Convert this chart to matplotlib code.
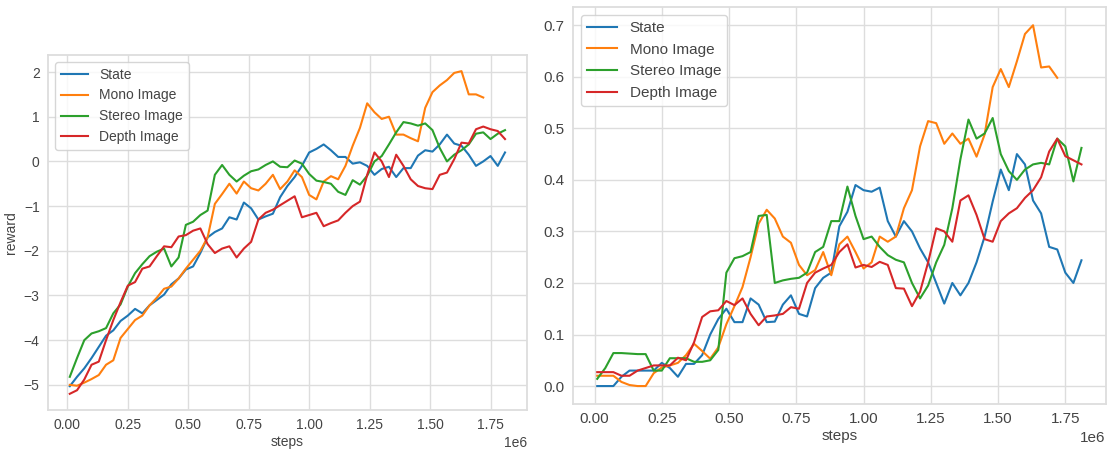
import matplotlib
matplotlib.use("Agg")
import matplotlib.pyplot as plt
import numpy as np

plt.rcParams['font.family'] = ['Liberation Sans', 'DejaVu Sans']
plt.rcParams['axes.unicode_minus'] = True

# training steps (in millions) shared by all runs
STEPS_M = [0.01, 0.04, 0.07, 0.10, 0.13, 0.16, 0.19, 0.22, 0.25, 0.28,
           0.31, 0.34, 0.37, 0.40, 0.43, 0.46, 0.49, 0.52, 0.55, 0.58,
           0.61, 0.64, 0.67, 0.70, 0.73, 0.76, 0.79, 0.82, 0.85, 0.88,
           0.91, 0.94, 0.97, 1.00, 1.03, 1.06, 1.09, 1.12, 1.15, 1.18,
           1.21, 1.24, 1.27, 1.30, 1.33, 1.36, 1.39, 1.42, 1.45, 1.48,
           1.51, 1.54, 1.57, 1.60, 1.63, 1.66, 1.69, 1.72, 1.75, 1.78,
           1.81]

LABELS = ['State', 'Mono Image', 'Stereo Image', 'Depth Image']
COLORS = ['#1f77b4', '#ff7f0e', '#2ca02c', '#d62728']

# left panel: reward
REWARD_STATE = [-5.03, -4.82, -4.63, -4.4, -4.15, -3.9, -3.78, -3.57, -3.45, -3.3,
                -3.4, -3.22, -3.1, -2.98, -2.75, -2.62, -2.42, -2.35, -2.05, -1.7,
                -1.58, -1.5, -1.25, -1.3, -0.92, -1.05, -1.3, -1.23, -1.17, -0.8,
                -0.55, -0.35, -0.1, 0.2, 0.28, 0.38, 0.25, 0.1, 0.1, -0.05,
                -0.02, -0.1, -0.3, -0.17, -0.12, -0.35, -0.15, -0.15, 0.13, 0.25,
                0.22, 0.38, 0.6, 0.4, 0.35, 0.15, -0.1, 0.0, 0.12, -0.1,
                0.2]
REWARD_MONO = [-5.0, -5.02, -4.95, -4.87, -4.78, -4.55, -4.45, -3.95, -3.75, -3.55,
               -3.45, -3.22, -3.05, -2.85, -2.8, -2.62, -2.4, -2.2, -2.0, -1.7,
               -0.95, -0.73, -0.5, -0.72, -0.45, -0.6, -0.65, -0.5, -0.3, -0.62,
               -0.45, -0.2, -0.35, -0.75, -0.85, -0.45, -0.33, -0.4, -0.1, 0.35,
               0.75, 1.3, 1.1, 0.95, 1.0, 0.6, 0.6, 0.52, 0.45, 1.2,
               1.55, 1.7, 1.82, 1.98, 2.02, 1.5, 1.5, 1.43]
REWARD_STEREO = [-4.82, -4.4, -4.0, -3.85, -3.8, -3.73, -3.4, -3.2, -2.8, -2.5,
                 -2.3, -2.12, -2.02, -1.95, -2.35, -2.15, -1.42, -1.35, -1.2, -1.1,
                 -0.3, -0.08, -0.3, -0.45, -0.32, -0.22, -0.18, -0.08, 0.0, -0.12,
                 -0.13, 0.02, -0.05, -0.28, -0.43, -0.46, -0.5, -0.68, -0.75, -0.42,
                 -0.52, -0.32, 0.0, 0.12, 0.38, 0.65, 0.88, 0.85, 0.8, 0.85,
                 0.7, 0.3, 0.0, 0.15, 0.25, 0.38, 0.62, 0.65, 0.5, 0.62,
                 0.7]
REWARD_DEPTH = [-5.2, -5.12, -4.88, -4.55, -4.48, -4.0, -3.55, -3.15, -2.78, -2.7,
                -2.4, -2.35, -2.12, -1.9, -1.92, -1.68, -1.65, -1.55, -1.5, -1.85,
                -2.05, -1.95, -1.9, -2.15, -1.95, -1.8, -1.3, -1.15, -1.08, -0.98,
                -0.88, -0.78, -1.25, -1.2, -1.15, -1.45, -1.38, -1.32, -1.15, -1.0,
                -0.9, -0.3, 0.2, 0.0, -0.35, 0.15, -0.1, -0.4, -0.55, -0.6,
                -0.62, -0.3, -0.25, 0.05, 0.42, 0.4, 0.72, 0.78, 0.72, 0.68,
                0.5]

# right panel: success rate
SUCCESS_STATE = [0.0, 0.0, 0.0, 0.018, 0.03, 0.03, 0.03, 0.03, 0.045, 0.035,
                 0.018, 0.043, 0.043, 0.06, 0.1, 0.13, 0.15, 0.124, 0.124, 0.17,
                 0.158, 0.124, 0.125, 0.158, 0.176, 0.14, 0.135, 0.19, 0.21, 0.22,
                 0.31, 0.338, 0.39, 0.38, 0.377, 0.385, 0.32, 0.29, 0.32, 0.3,
                 0.267, 0.24, 0.2, 0.16, 0.2, 0.176, 0.2, 0.24, 0.29, 0.358,
                 0.42, 0.38, 0.45, 0.43, 0.36, 0.335, 0.27, 0.265, 0.22, 0.2,
                 0.244]
SUCCESS_MONO = [0.02, 0.02, 0.02, 0.008, 0.002, 0.0, 0.0, 0.025, 0.036, 0.04,
                0.045, 0.06, 0.082, 0.068, 0.053, 0.075, 0.12, 0.155, 0.192, 0.25,
                0.315, 0.342, 0.325, 0.29, 0.278, 0.235, 0.215, 0.225, 0.26, 0.215,
                0.275, 0.29, 0.26, 0.228, 0.24, 0.29, 0.28, 0.29, 0.345, 0.38,
                0.465, 0.514, 0.51, 0.47, 0.49, 0.47, 0.48, 0.445, 0.488, 0.58,
                0.615, 0.58, 0.63, 0.683, 0.7, 0.618, 0.62, 0.598]
SUCCESS_STEREO = [0.014, 0.035, 0.064, 0.064, 0.063, 0.062, 0.062, 0.03, 0.03, 0.054,
                  0.054, 0.054, 0.047, 0.047, 0.05, 0.07, 0.22, 0.248, 0.252, 0.26,
                  0.33, 0.332, 0.2, 0.205, 0.208, 0.21, 0.22, 0.26, 0.27, 0.32,
                  0.32, 0.387, 0.33, 0.285, 0.29, 0.27, 0.254, 0.245, 0.24, 0.2,
                  0.17, 0.195, 0.24, 0.274, 0.345, 0.44, 0.517, 0.48, 0.49, 0.52,
                  0.45, 0.417, 0.4, 0.42, 0.43, 0.433, 0.43, 0.48, 0.465, 0.397,
                  0.462]
SUCCESS_DEPTH = [0.027, 0.027, 0.027, 0.02, 0.02, 0.03, 0.035, 0.04, 0.04, 0.04,
                 0.055, 0.05, 0.085, 0.134, 0.145, 0.147, 0.165, 0.157, 0.17, 0.14,
                 0.118, 0.135, 0.137, 0.14, 0.153, 0.15, 0.2, 0.22, 0.228, 0.235,
                 0.26, 0.275, 0.23, 0.235, 0.231, 0.241, 0.235, 0.19, 0.189, 0.155,
                 0.183, 0.24, 0.306, 0.3, 0.28, 0.36, 0.37, 0.332, 0.285, 0.28,
                 0.32, 0.335, 0.345, 0.365, 0.38, 0.405, 0.455, 0.48, 0.446, 0.438,
                 0.43]

GRID_C = '#dddddd'
TEXT_C = '#444444'


def style_axes(ax, fs):
    ax.set_facecolor('white')
    for sp in ax.spines.values():
        sp.set_color(GRID_C)
        sp.set_linewidth(1.3)
    ax.grid(True, color=GRID_C, linewidth=1.0)
    ax.set_axisbelow(True)
    ax.tick_params(length=0, labelsize=fs, labelcolor=TEXT_C, pad=6)
    ax.xaxis.get_offset_text().set_fontsize(fs)
    ax.xaxis.get_offset_text().set_color(TEXT_C)


def draw_panel(ax, series, fs):
    steps = np.array(STEPS_M) * 1e6
    for vals, lab, col in zip(series, LABELS, COLORS):
        ax.plot(steps[:len(vals)], vals, color=col, label=lab, linewidth=1.5)
    style_axes(ax, fs)
    ax.set_xticks(np.array([0, 0.25, 0.5, 0.75, 1.0, 1.25, 1.5, 1.75]) * 1e6)
    ax.set_xlabel('steps', fontsize=fs, color=TEXT_C, labelpad=2)
    leg = ax.legend(loc='upper left', fontsize=fs, frameon=True, fancybox=True,
                    framealpha=0.8, edgecolor='#cccccc')
    for t in leg.get_texts():
        t.set_color(TEXT_C)


fig = plt.figure(figsize=(11.09, 4.49), dpi=100)
fig.patch.set_facecolor('white')

ax1 = fig.add_axes([0.0433, 0.087, 0.4317, 0.7905])
draw_panel(ax1, [REWARD_STATE, REWARD_MONO, REWARD_STEREO, REWARD_DEPTH], 10)
ax1.set_yticks([-5, -4, -3, -2, -1, 0, 1, 2])
ax1.set_ylabel('reward', fontsize=10, color=TEXT_C)

ax2 = fig.add_axes([0.5167, 0.1, 0.4803, 0.884])
draw_panel(ax2, [SUCCESS_STATE, SUCCESS_MONO, SUCCESS_STEREO, SUCCESS_DEPTH], 11)
ax2.set_yticks([0.0, 0.1, 0.2, 0.3, 0.4, 0.5, 0.6, 0.7])

fig.savefig('out.png', dpi=100, facecolor='white')
